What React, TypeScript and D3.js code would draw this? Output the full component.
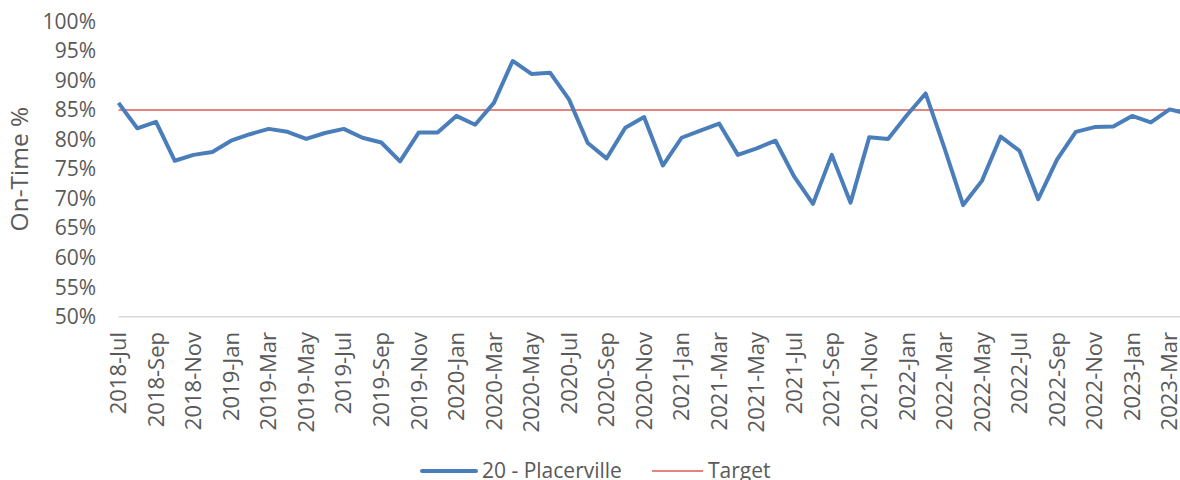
import React, { useEffect, useRef } from 'react';
import * as d3 from 'd3';

const months = [
  '2018-Jul', '2018-Aug', '2018-Sep', '2018-Oct', '2018-Nov', '2018-Dec',
  '2019-Jan', '2019-Feb', '2019-Mar', '2019-Apr', '2019-May', '2019-Jun',
  '2019-Jul', '2019-Aug', '2019-Sep', '2019-Oct', '2019-Nov', '2019-Dec',
  '2020-Jan', '2020-Feb', '2020-Mar', '2020-Apr', '2020-May', '2020-Jun',
  '2020-Jul', '2020-Aug', '2020-Sep', '2020-Oct', '2020-Nov', '2020-Dec',
  '2021-Jan', '2021-Feb', '2021-Mar', '2021-Apr', '2021-May', '2021-Jun',
  '2021-Jul', '2021-Aug', '2021-Sep', '2021-Oct', '2021-Nov', '2021-Dec',
  '2022-Jan', '2022-Feb', '2022-Mar', '2022-Apr', '2022-May', '2022-Jun',
  '2022-Jul', '2022-Aug', '2022-Sep', '2022-Oct', '2022-Nov', '2022-Dec',
  '2023-Jan', '2023-Feb', '2023-Mar', '2023-Apr',
];

const placerville = [
  86.2, 81.9, 83.0, 76.4, 77.4, 77.9,
  79.8, 80.9, 81.8, 81.3, 80.1, 81.1, 81.8, 80.3, 79.5, 76.3, 81.2, 81.2,
  84.0, 82.5, 86.2, 93.3, 91.1, 91.3, 86.8, 79.4, 76.8, 82.0, 83.8, 75.6,
  80.3, 81.5, 82.7, 77.4, 78.5, 79.8, 73.7, 69.1, 77.4, 69.3, 80.4, 80.1,
  84.1, 87.8, 78.6, 68.9, 73.0, 80.5, 78.1, 69.9, 76.6, 81.3, 82.1, 82.2,
  84.0, 82.9, 85.1, 84.35,
];

const target = 85;

// every other month gets a label
const tickLabels = months.filter((_, i) => i % 2 === 0);
const yTicks = [50, 55, 60, 65, 70, 75, 80, 85, 90, 95, 100];

const FONT = '"Open Sans", "Noto Sans", sans-serif';
const GREY = '#595959';
const BLUE = '#4a7ebb';
const RED = '#dd5a55';

const App = () => {
  const svgRef = useRef<SVGSVGElement>(null);

  useEffect(() => {
    const svg = d3.select(svgRef.current);
    svg.selectAll('*').remove();

    const width = 1180;
    const left = 118.5;
    const step = 18.77;

    // plot runs a bit past the right edge, so the last month is cut off like the original
    const x = d3.scalePoint()
      .domain(months)
      .range([left, left + step * (months.length - 1)]);

    const y = d3.scaleLinear()
      .domain([50, 100])
      .range([316.7, 21.4]);

    const g = svg.append('g').style('font-family', FONT);

    // y tick labels
    g.append('g')
      .selectAll('text')
      .data(yTicks)
      .enter()
      .append('text')
      .attr('x', 96)
      .attr('y', d => y(d))
      .attr('dy', '0.35em')
      .attr('text-anchor', 'end')
      .attr('font-size', 21)
      .attr('fill', GREY)
      .text(d => `${d}%`);

    // y title
    g.append('text')
      .attr('transform', `translate(19, ${(y(50) + y(100)) / 2}) rotate(-90)`)
      .attr('dy', '0.35em')
      .attr('text-anchor', 'middle')
      .attr('font-size', 24.5)
      .attr('fill', GREY)
      .text('On-Time %');

    // baseline
    g.append('line')
      .attr('x1', left)
      .attr('x2', width)
      .attr('y1', y(50))
      .attr('y2', y(50))
      .attr('stroke', '#d9d9d9')
      .attr('stroke-width', 1.5);

    // x labels
    g.append('g')
      .selectAll('text')
      .data(tickLabels)
      .enter()
      .append('text')
      .attr('transform', d => `translate(${x(d)}, 332) rotate(-90)`)
      .attr('dy', '0.35em')
      .attr('text-anchor', 'end')
      .attr('font-size', 22)
      .attr('fill', GREY)
      .text(d => d);

    // target line
    g.append('line')
      .attr('x1', left)
      .attr('x2', x(months[months.length - 1]))
      .attr('y1', y(target))
      .attr('y2', y(target))
      .attr('stroke', RED)
      .attr('stroke-width', 1.5);

    const line = d3.line<number>()
      .x((_, i) => x(months[i]))
      .y(d => y(d));

    g.append('path')
      .datum(placerville)
      .attr('d', line)
      .attr('fill', 'none')
      .attr('stroke', BLUE)
      .attr('stroke-width', 4)
      .attr('stroke-linejoin', 'round');

    // legend
    const legend = g.append('g').attr('transform', 'translate(0, 471)');
    legend.append('line')
      .attr('x1', 422).attr('x2', 476)
      .attr('stroke', BLUE).attr('stroke-width', 4).attr('stroke-linecap', 'round');
    legend.append('text')
      .attr('x', 482).attr('dy', '0.35em')
      .attr('font-size', 21).attr('fill', GREY)
      .text('20 - Placerville');
    legend.append('line')
      .attr('x1', 652).attr('x2', 703)
      .attr('stroke', RED).attr('stroke-width', 1.5);
    legend.append('text')
      .attr('x', 708).attr('dy', '0.35em')
      .attr('font-size', 21).attr('fill', GREY)
      .text('Target');
  }, []);

  return (
    <svg
      ref={svgRef}
      width={1180}
      height={480}
      style={{ position: 'absolute', left: 0, top: 0, background: '#fff' }}
    />
  );
};

export default App;
